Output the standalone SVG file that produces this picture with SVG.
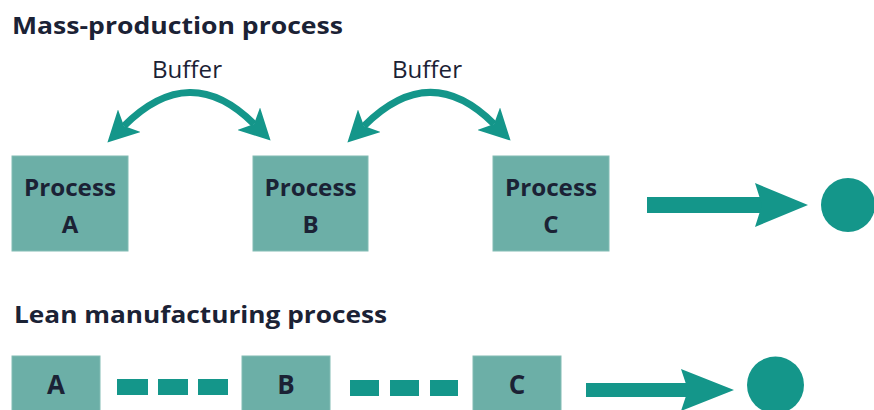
<svg xmlns="http://www.w3.org/2000/svg" width="874" height="410" viewBox="0 0 874 410">
  <defs>
    <style>
      .title { font-family: "Open Sans", "Liberation Sans", sans-serif; font-weight: bold; font-size: 24px; fill: #1b2235; }
      .label { font-family: "Open Sans", "Liberation Sans", sans-serif; font-size: 24px; fill: #1b2235; }
      .ptext { font-family: "Open Sans", "Liberation Sans", sans-serif; font-weight: bold; font-size: 24px; fill: #1b2235; text-anchor: middle; }
      .box { fill: #6cafa7; stroke: #82bcb4; stroke-width: 1; }
      .teal { fill: #14968a; }
      .arc { fill: none; stroke: #14968a; stroke-width: 7; }
    </style>
    <marker id="head" markerUnits="userSpaceOnUse" markerWidth="32" markerHeight="32" refX="7" refY="15" orient="auto-start-reverse" viewBox="0 0 30 30">
      <path d="M0,0 L29,15 L0,30 L7,15 z" fill="#14968a"/>
    </marker>
  </defs>
  <rect width="874" height="410" fill="#ffffff"/>

  <text class="title" x="12" y="34" textLength="331" lengthAdjust="spacingAndGlyphs">Mass-production process</text>
  <text class="title" x="14" y="323" textLength="373" lengthAdjust="spacingAndGlyphs">Lean manufacturing process</text>

  <g id="nodes-mass">
    <g id="processA">
      <rect class="box" x="12" y="156" width="116" height="95"/>
      <text class="ptext" x="70" y="196" textLength="92" lengthAdjust="spacingAndGlyphs">Process</text>
      <text class="ptext" x="70" y="233">A</text>
    </g>
    <g id="processB">
      <rect class="box" x="253" y="156" width="115" height="95"/>
      <text class="ptext" x="310.5" y="196" textLength="92" lengthAdjust="spacingAndGlyphs">Process</text>
      <text class="ptext" x="310.5" y="233">B</text>
    </g>
    <g id="processC">
      <rect class="box" x="493" y="156" width="116" height="95"/>
      <text class="ptext" x="551" y="196" textLength="92" lengthAdjust="spacingAndGlyphs">Process</text>
      <text class="ptext" x="551" y="233">C</text>
    </g>
    <g id="outputMass">
      <circle class="teal" cx="848" cy="205" r="27"/>
    </g>
  </g>

  <g id="nodes-lean">
    <g id="leanA">
      <rect class="box" x="12" y="356" width="88" height="60"/>
      <text class="ptext" x="56" y="394" style="font-size:26px">A</text>
    </g>
    <g id="leanB">
      <rect class="box" x="242" y="356" width="88" height="60"/>
      <text class="ptext" x="286" y="394" style="font-size:26px">B</text>
    </g>
    <g id="leanC">
      <rect class="box" x="473" y="356" width="88" height="60"/>
      <text class="ptext" x="517" y="394" style="font-size:26px">C</text>
    </g>
    <g id="outputLean">
      <circle class="teal" cx="775.5" cy="385" r="28.5"/>
    </g>
  </g>

  <g id="connectors">
    <text class="label" x="187" y="78" text-anchor="middle" textLength="70" lengthAdjust="spacingAndGlyphs">Buffer</text>
    <text class="label" x="427" y="78" text-anchor="middle" textLength="70" lengthAdjust="spacingAndGlyphs">Buffer</text>
    <path class="arc" d="M124,126 Q190,60 254,124" marker-start="url(#head)" marker-end="url(#head)"/>
    <path class="arc" d="M364,126 Q430,60 494,124" marker-start="url(#head)" marker-end="url(#head)"/>

    <rect class="teal" x="647" y="197" width="115" height="16"/>
    <polygon class="teal" points="755,183 808,205 755,227 762,205"/>

    <rect class="teal" x="117" y="379" width="31" height="16"/>
    <rect class="teal" x="158" y="379" width="30" height="16"/>
    <rect class="teal" x="198" y="379" width="30" height="16"/>
    <rect class="teal" x="350" y="380" width="29" height="16"/>
    <rect class="teal" x="390" y="380" width="29" height="16"/>
    <rect class="teal" x="430" y="380" width="28" height="16"/>

    <rect class="teal" x="586" y="383" width="102" height="14"/>
    <polygon class="teal" points="681,369 734,390 681,411 688,390"/>
  </g>
</svg>
